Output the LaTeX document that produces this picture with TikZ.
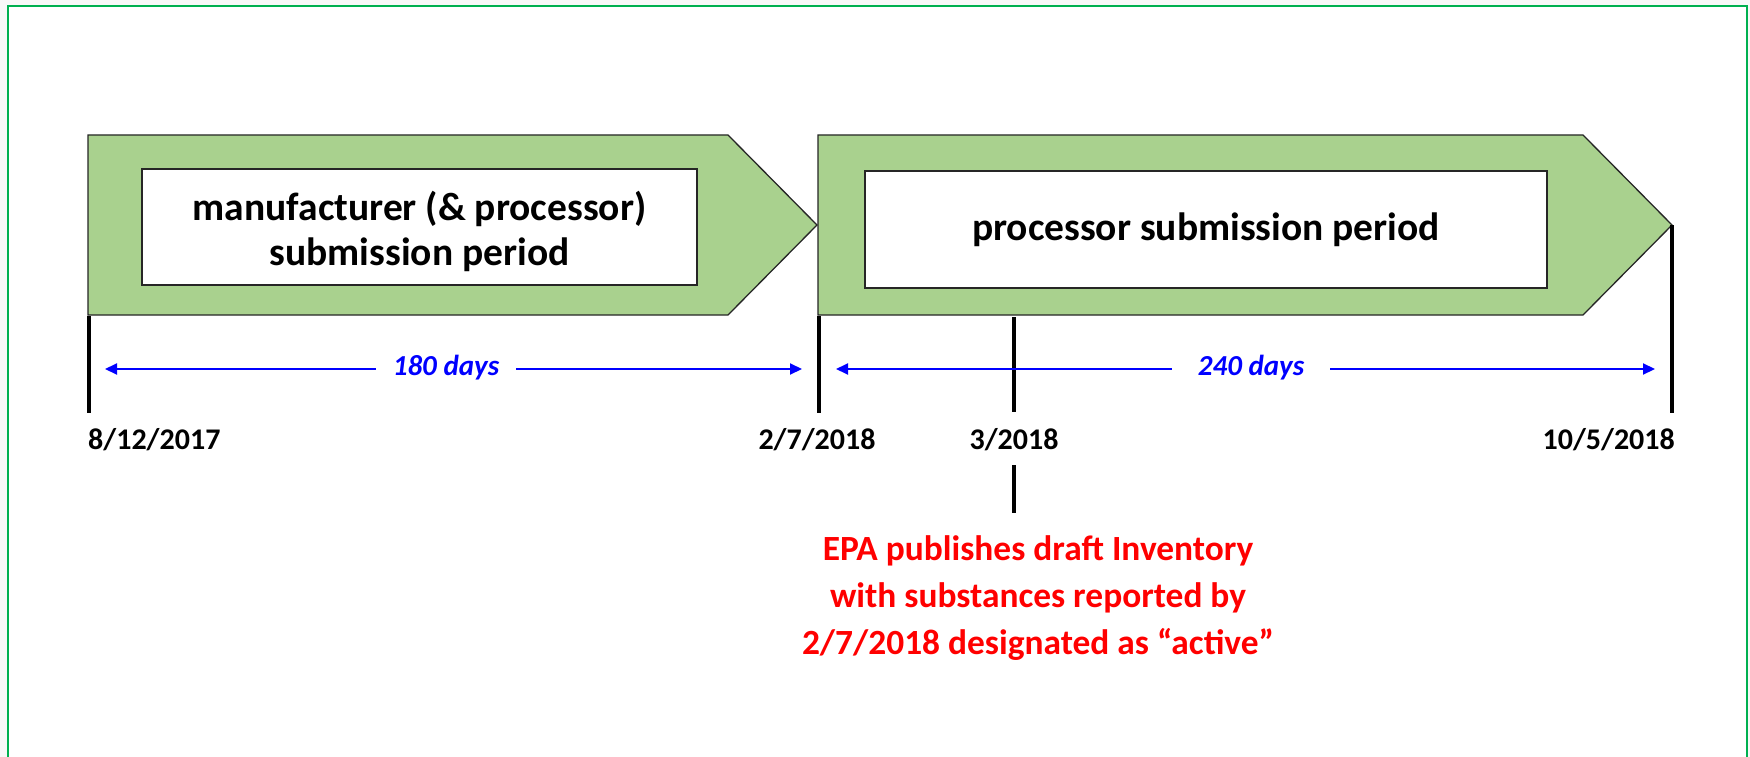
\documentclass[tikz,border=0pt]{standalone}
\usepackage{fontspec}
\setmainfont{Carlito}
\usetikzlibrary{arrows.meta}
\definecolor{frame}{HTML}{00B050}
\definecolor{chevron}{HTML}{A9D18E}
\definecolor{outside}{HTML}{F8F8F8}
\definecolor{span}{HTML}{0000FF}
\definecolor{note}{HTML}{FF0000}
\tikzset{
  period/.style={draw=black!85, fill=chevron, line width=1.3pt, line join=miter},
  labelbox/.style={draw=black!85, fill=white, line width=1.6pt, inner sep=0pt},
  boxtext/.style={align=center, font=\fontsize{39.5}{45}\selectfont\bfseries, inner sep=0pt},
  tick/.style={line width=3.2pt, black},
  datelabel/.style={font=\fontsize{30}{36}\selectfont\bfseries, inner sep=0pt},
  spanline/.style={span, line width=2pt, -{Triangle[length=12pt,width=11pt]}},
  spantext/.style={span, font=\fontsize{29}{34}\selectfont\bfseries\itshape,
    inner ysep=0pt, text height=0.63em, text depth=0pt},
  notetext/.style={note, align=center, font=\fontsize{35.4}{47}\selectfont\bfseries, inner sep=0pt},
}
\begin{document}
\begin{tikzpicture}[x=1pt,y=-1pt]
\useasboundingbox (0,0) rectangle (1750,757);
\clip (0,0) rectangle (1750,757);
\fill[outside] (0,0) rectangle (1750,757);
\draw[frame, fill=white, line width=2pt] (7.5,6) rectangle (1747,790);

% two submission periods as chevrons
\draw[period] (88,135) -- (728,135) -- (817,225) -- (728,315) -- (88,315) -- cycle;
\draw[period] (818,135) -- (1583,135) -- (1672,225) -- (1583,315) -- (818,315) -- cycle;

\node[labelbox, minimum width=555pt, minimum height=116pt] (mfg) at (419.5,227) {};
\node[boxtext] (mfgtext) at ([yshift=-4pt]mfg.center)
  {manufacturer (\& processor)\\submission period};
\node[labelbox, minimum width=682pt, minimum height=117pt] (proc) at (1206,229.5) {};
\node[boxtext] (proctext) at (proc.center)
  {processor submission period};

% date ticks
\coordinate (a0) at (89,316);   \coordinate (b0) at (89,413);
\coordinate (a1) at (819,316);  \coordinate (b1) at (819,413);
\coordinate (a2) at (1014,317); \coordinate (b2) at (1014,412);
\coordinate (a3) at (1672,225); \coordinate (b3) at (1672,413);
\coordinate (c2) at (1014,465); \coordinate (e2) at (1014,513);
\draw[tick] (a0) -- (b0);
\draw[tick] (a1) -- (b1);
\draw[tick] (a2) -- (b2);
\draw[tick] (a3) -- (b3);
\draw[tick] (c2) -- (e2);

\node[datelabel, anchor=base west] (d0) at (88,449) {8/12/2017};
\node[datelabel, anchor=base] (d1) at (817,449) {2/7/2018};
\node[datelabel, anchor=base] (d2) at (1014,449) {3/2018};
\node[datelabel, anchor=base east] (d3) at (1675,449) {10/5/2018};

% durations
\coordinate (s180l) at (105,369); \coordinate (s180r) at (802,369);
\node[spantext, inner xsep=17pt] (s180) at (446,372) {180 days};
\draw[spanline] (s180.west |- s180l) -- (s180l);
\draw[spanline] (s180.east |- s180r) -- (s180r);

\coordinate (s240l) at (836,369); \coordinate (s240r) at (1655,369);
\node[spantext, inner xsep=26pt] (s240) at (1251,372) {240 days};
\draw[spanline] (s240.west |- s240l) -- (s240l);
\draw[spanline] (s240.east |- s240r) -- (s240r);

\node[notetext, anchor=north] (epa) at (1038,535)
  {EPA publishes draft Inventory\\with substances reported by\\2/7/2018 designated as “active”};
\end{tikzpicture}
\end{document}
